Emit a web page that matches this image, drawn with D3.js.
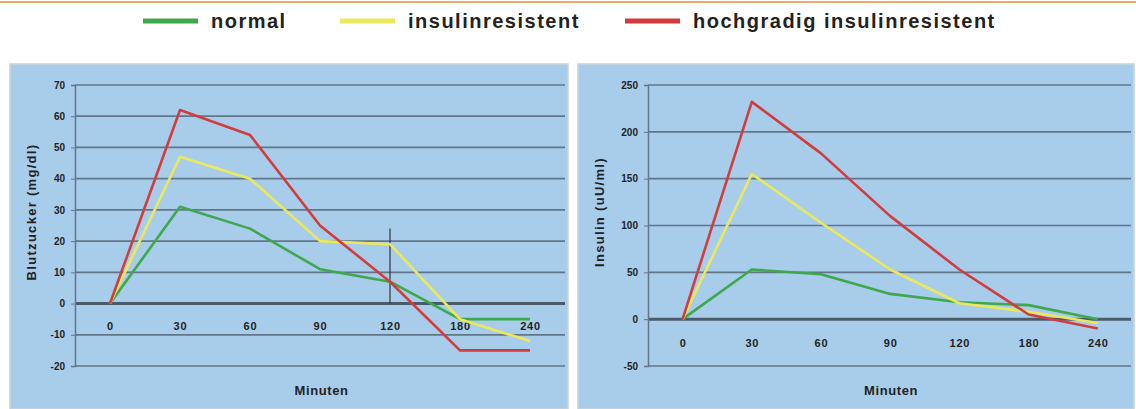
<!DOCTYPE html>
<html>
<head>
<meta charset="utf-8">
<script src="https://cdn.jsdelivr.net/npm/d3@7"></script>
<style>
  body { margin: 0; background: #fff; }
  text { font-family: "Liberation Sans", Arial, sans-serif; }
</style>
</head>
<body>
<div id="chart"></div>
<script>
// data
const minutes = ['0', '30', '60', '90', '120', '180', '240'];
const seriesNames = ['normal', 'insulinresistent', 'hochgradig insulinresistent'];
const seriesColors = ['#3ea84c', '#ece85c', '#d23c3c'];

const zuckerNormal = [0, 31, 24, 11, 7, -5, -5];
const zuckerResist = [0, 47, 40, 20, 19, -5, -12];
const zuckerHoch   = [0, 62, 54, 25, 7, -15, -15];
const zuckerTicks  = [70, 60, 50, 40, 30, 20, 10, 0, -10, -20];
const zuckerMarker = {x: '120', from: 0, to: 24};

const insulinNormal = [0, 53, 48, 27, 18, 15, 0];
const insulinResist = [0, 155, 103, 53, 17, 8, -4];
const insulinHoch   = [0, 232, 177, 110, 53, 5, -10];
const insulinTicks  = [250, 200, 150, 100, 50, 0, -50];

const W = 1136, H = 409;
const svg = d3.select('#chart').append('svg')
  .attr('width', W).attr('height', H);

// orange rule at the top
svg.append('line')
  .attr('x1', 0).attr('x2', W).attr('y1', 2).attr('y2', 2)
  .attr('stroke', '#f4a86a').attr('stroke-width', 2);

// legend
const legendX = [143, 340, 625];
const legend = svg.append('g');
seriesNames.forEach((name, i) => {
  legend.append('line')
    .attr('x1', legendX[i]).attr('x2', legendX[i] + 55)
    .attr('y1', 21).attr('y2', 21)
    .attr('stroke', seriesColors[i]).attr('stroke-width', 5);
  legend.append('text')
    .attr('x', legendX[i] + 68).attr('y', 28)
    .text(name)
    .style('font-size', '20px').style('font-weight', 'bold')
    .style('letter-spacing', '1.5px')
    .style('fill', '#222');
});

function drawPanel(opt) {
  const g = svg.append('g');
  g.append('rect')
    .attr('x', opt.left).attr('y', 64)
    .attr('width', opt.right - opt.left).attr('height', H - 64)
    .attr('fill', '#a8cdeb').attr('stroke', '#c9d3dc').attr('stroke-width', 1.5);

  const x = d3.scalePoint()
    .domain(minutes)
    .range([opt.axisX, opt.axisX + 7 * opt.step])
    .padding(0.5);
  const y = d3.scaleLinear()
    .domain([opt.ticks[opt.ticks.length - 1], opt.ticks[0]])
    .range([366, 85]);

  // gridlines
  g.selectAll('.grid').data(opt.ticks).enter().append('line')
    .attr('x1', opt.axisX).attr('x2', opt.right - 3)
    .attr('y1', d => y(d)).attr('y2', d => y(d))
    .attr('stroke', d => d === 0 ? '#4a5b6c' : '#62768a')
    .attr('stroke-width', d => d === 0 ? 3 : 1.7);

  // y axis
  const yAxis = d3.axisLeft(y).tickValues(opt.ticks).tickSize(4).tickPadding(6)
    .tickFormat(d => String(d));
  const ya = g.append('g')
    .attr('transform', 'translate(' + opt.axisX + ',0)')
    .call(yAxis);
  ya.select('.domain').attr('stroke', '#62768a').attr('stroke-width', 1.5);
  ya.selectAll('.tick line').attr('stroke', '#62768a');
  ya.selectAll('text')
    .style('font-size', '10px').style('font-weight', 'bold').style('fill', '#222');

  // x tick labels along the zero line
  const xAxis = d3.axisBottom(x).tickSize(0).tickPadding(opt.xPad);
  const xa = g.append('g')
    .attr('transform', 'translate(0,' + y(0) + ')')
    .call(xAxis);
  xa.select('.domain').remove();
  xa.selectAll('text')
    .style('font-size', '11px').style('font-weight', 'bold')
    .style('letter-spacing', '0.8px').style('fill', '#222');

  // axis titles
  g.append('text')
    .attr('x', (opt.axisX + opt.right) / 2).attr('y', 395)
    .attr('text-anchor', 'middle')
    .text('Minuten')
    .style('font-size', '13px').style('font-weight', 'bold')
    .style('letter-spacing', '0.6px').style('fill', '#222');
  g.append('text')
    .attr('transform', 'translate(' + (opt.left + 26) + ',' + opt.titleY + ') rotate(-90)')
    .attr('text-anchor', 'middle')
    .text(opt.title)
    .style('font-size', '13px').style('font-weight', 'bold')
    .style('letter-spacing', '1.3px').style('fill', '#222');

  if (opt.marker) {
    g.append('line')
      .attr('x1', x(opt.marker.x)).attr('x2', x(opt.marker.x))
      .attr('y1', y(opt.marker.from)).attr('y2', y(opt.marker.to))
      .attr('stroke', '#333').attr('stroke-width', 1.2);
  }

  const line = d3.line()
    .x((d, i) => x(minutes[i]))
    .y(d => y(d));
  opt.series.forEach((s, i) => {
    g.append('path')
      .datum(s)
      .attr('d', line)
      .attr('fill', 'none')
      .attr('stroke', seriesColors[i])
      .attr('stroke-width', 2.6)
      .attr('stroke-linejoin', 'round');
  });
}

drawPanel({
  left: 10, right: 568, axisX: 75, step: 70, xPad: 19,
  ticks: zuckerTicks,
  series: [zuckerNormal, zuckerResist, zuckerHoch],
  title: 'Blutzucker (mg/dl)', titleY: 212,
  marker: zuckerMarker
});

drawPanel({
  left: 578, right: 1134, axisX: 648, step: 69.2, xPad: 20,
  ticks: insulinTicks,
  series: [insulinNormal, insulinResist, insulinHoch],
  title: 'Insulin (uU/ml)', titleY: 212
});
</script>
</body>
</html>
